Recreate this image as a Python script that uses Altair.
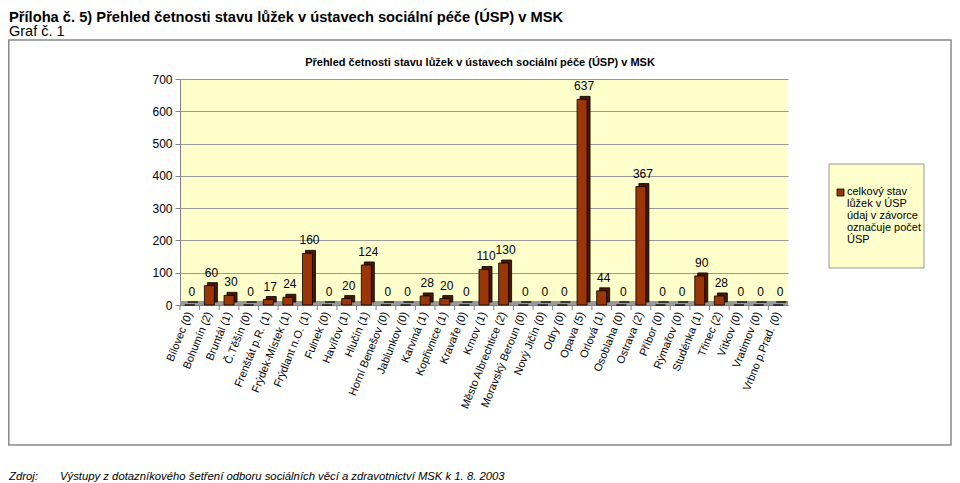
import altair as alt
import pandas as pd

categories = ["Bílovec (0)", "Bohumín (2)", "Bruntál (1)", "Č.Těšín (0)", "Frenštát p.R. (1)",
              "Frýdek-Místek (1)", "Frýdlant n.O. (1)", "Fulnek (0)", "Havířov (1)", "Hlučín (1)",
              "Horní Benešov (0)", "Jablunkov (0)", "Karviná (1)", "Kopřivnice (1)", "Kravaře (0)",
              "Krnov (1)", "Město Albrechtice (2)", "Moravský Beroun (0)", "Nový Jičín (0)", "Odry (0)",
              "Opava (5)", "Orlová (1)", "Osoblaha (0)", "Ostrava (2)", "Příbor (0)", "Rýmařov (0)",
              "Studénka (1)", "Třinec (2)", "Vítkov (0)", "Vratimov (0)", "Vrbno p.Prad. (0)"]
values = [0, 60, 30, 0, 17, 24, 160, 0, 20, 124, 0, 0, 28, 20, 0, 110, 130, 0, 0, 0,
          637, 44, 0, 367, 0, 0, 90, 28, 0, 0, 0]
y_ticks = [0, 100, 200, 300, 400, 500, 600, 700]

page_title = "Příloha č. 5) Přehled četnosti stavu lůžek v ústavech sociální péče (ÚSP) v MSK"
page_subtitle = "Graf č. 1"
chart_title = "Přehled četnosti stavu lůžek v ústavech sociální péče (ÚSP) v MSK"
legend_lines = ["celkový stav", "lůžek v ÚSP", "údaj v závorce", "označuje počet", "ÚSP"]
source_label = "Zdroj:"
source_text = "Výstupy z dotazníkového šetření odboru sociálních věcí a zdravotnictví MSK k 1. 8. 2003"

FONT = "Liberation Sans"
W, H = 608, 226
BAR = "#9c3508"
BAR_DARK = "#4a1800"

df = pd.DataFrame({"cat": categories, "val": values})
one = alt.Data(values=[{}])

x_enc = alt.X("cat:N", sort=categories,
              scale=alt.Scale(paddingInner=0, paddingOuter=0),
              axis=alt.Axis(title=None, labelAngle=292, labelAlign="right", labelBaseline="middle",
                            ticks=False, labelPadding=7, labelFontSize=11, labelFont=FONT,
                            labelColor="black", labelLimit=300, domainColor="#808080"))
y_enc = alt.Y("val:Q", scale=alt.Scale(domain=[0, 700], nice=False),
              axis=alt.Axis(title=None, values=y_ticks, grid=True, gridColor="#999999",
                            domainColor="#808080", tickColor="#808080", tickSize=5,
                            labelPadding=3, labelFontSize=12, labelFont=FONT, labelColor="black"))

frame = alt.Chart(one).mark_rect(fill="white", fillOpacity=0, stroke="#888888", strokeWidth=1.5).encode(
    x=alt.value(-171.25), x2=alt.value(771), y=alt.value(-39), y2=alt.value(366))

floor = alt.Chart(one).mark_rect(fill="#9a9a9a").encode(
    x=alt.value(0), x2=alt.value(W), y=alt.value(H - 4), y2=alt.value(H))

ticks = alt.Chart(df).mark_rule(color="#808080", xOffset=-W / 62).encode(
    x=x_enc, y=alt.value(H), y2=alt.value(H + 5))

back = alt.Chart(df).mark_bar(size=10, xOffset=3, yOffset=-3, fill=BAR_DARK, stroke="black",
                              strokeWidth=0.8).encode(x=x_enc, y=y_enc)
front = alt.Chart(df).mark_bar(size=10, fill=BAR, stroke="black", strokeWidth=0.8).encode(
    x=x_enc, y=y_enc)
labels = alt.Chart(df).mark_text(baseline="bottom", dy=-6, dx=2, fontSize=12, font=FONT,
                                 color="black").encode(x=x_enc, y=y_enc, text="val:Q")

ctitle = alt.Chart(one).mark_text(fontSize=11, fontWeight="bold", font=FONT, align="center",
                                  baseline="alphabetic").encode(
    x=alt.value(300), y=alt.value(-13), text=alt.value(chart_title))

ptitle = alt.Chart(one).mark_text(fontSize=14.7, fontWeight="bold", font=FONT, align="left",
                                  baseline="alphabetic").encode(
    x=alt.value(-171), y=alt.value(-57.5), text=alt.value(page_title))
psub = alt.Chart(one).mark_text(fontSize=14.5, font=FONT, align="left", baseline="alphabetic").encode(
    x=alt.value(-171), y=alt.value(-43), text=alt.value(page_subtitle))

src1 = alt.Chart(one).mark_text(fontSize=11.3, font=FONT, fontStyle="italic", align="left",
                                baseline="alphabetic").encode(
    x=alt.value(-171), y=alt.value(401), text=alt.value(source_label))
src2 = alt.Chart(one).mark_text(fontSize=11.3, font=FONT, fontStyle="italic", align="left",
                                baseline="alphabetic").encode(
    x=alt.value(-120), y=alt.value(401), text=alt.value(source_text))

leg_box = alt.Chart(one).mark_rect(fill="#FFFFCC", stroke="#999999", strokeWidth=1).encode(
    x=alt.value(649), x2=alt.value(744), y=alt.value(85), y2=alt.value(189))
leg_sw = alt.Chart(one).mark_rect(fill=BAR, stroke="black", strokeWidth=0.8).encode(
    x=alt.value(657), x2=alt.value(664), y=alt.value(110), y2=alt.value(117))
leg_txt = alt.Chart(one).mark_text(fontSize=11, font=FONT, align="left", baseline="top",
                                   lineBreak="\n", lineHeight=12, color="black").encode(
    x=alt.value(667), y=alt.value(107), text=alt.value("\n".join(legend_lines)))

chart = alt.layer(frame, floor, ticks, back, front, labels, ctitle, ptitle, psub, src1, src2,
                  leg_box, leg_sw, leg_txt).properties(
    width=W, height=H,
    autosize=alt.AutoSizeParams(type="none"),
    padding={"left": 172, "top": 71, "right": 164, "bottom": 178},
    background="white",
).configure_view(fill="#FFFFCC", stroke=None)

chart.save("out.html", embed_options={"renderer": "svg", "actions": False})
